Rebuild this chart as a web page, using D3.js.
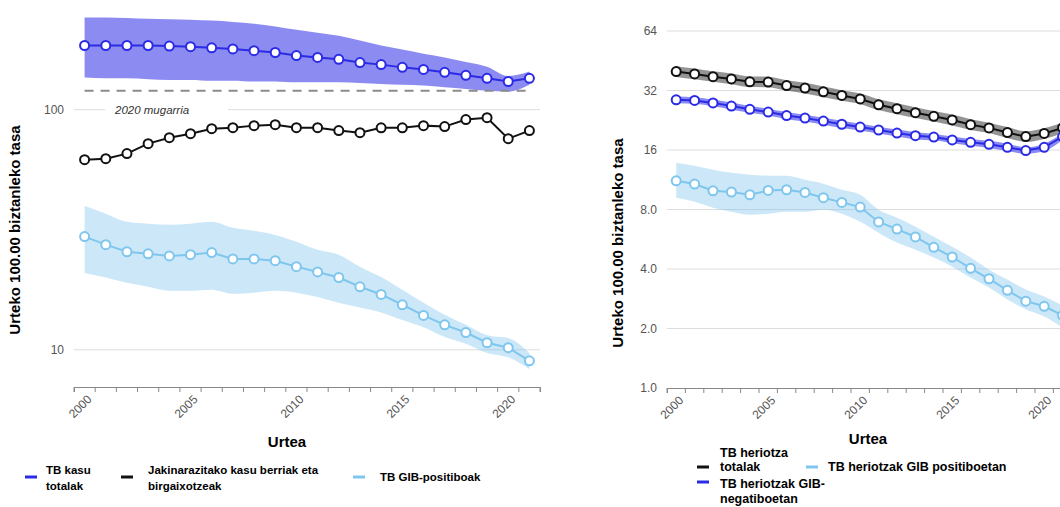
<!DOCTYPE html>
<html>
<head>
<meta charset="utf-8">
<script src="https://cdn.jsdelivr.net/npm/d3@7"></script>
<style>
  body { margin: 0; background: #fff; }
  svg { font-family: "Liberation Sans", Arial, Helvetica, sans-serif; }
</style>
</head>
<body>
<svg width="1060" height="507"></svg>
<script>
const years = [2000, 2001, 2002, 2003, 2004, 2005, 2006, 2007, 2008, 2009, 2010,
               2011, 2012, 2013, 2014, 2015, 2016, 2017, 2018, 2019, 2020, 2021]
const yearLabels = [2000, 2005, 2010, 2015, 2020]

// ezkerreko grafikoa: kasuak
const kasuTotalak      = [185, 185, 185, 185, 184, 183, 181, 179, 176, 173, 168, 165, 162, 157, 154, 150, 147, 143, 139, 135, 131, 135]
const kasuTotalakGoi   = [242, 242, 241, 239, 238, 237, 235, 232, 228, 222, 215, 209, 203, 194, 185, 178, 171, 165, 158, 151, 138, 144]
const kasuTotalakBehe  = [136, 135, 135, 134, 133, 133, 132, 132, 131, 131, 130, 130, 130, 129, 128, 127, 126, 124, 122, 120, 119, 127]
const jakinarazitakoak = [61.9, 62.5, 65.6, 72.2, 76.4, 79.4, 83.3, 84.1, 85.8, 86.6, 84.1, 84.1, 81.8, 80.2, 84.0, 84.0, 85.8, 85.0, 90.9, 92.6, 75.7, 81.8]
const gibPositiboak    = [29.6, 27.4, 25.6, 25.1, 24.6, 24.9, 25.4, 23.9, 23.9, 23.5, 22.2, 21.1, 20.0, 18.3, 17.0, 15.4, 13.9, 12.7, 11.8, 10.7, 10.2, 9.0]
const gibPositiboakGoi = [39.8, 36.9, 34.1, 33.5, 33.2, 33.5, 34.1, 32.2, 31.3, 30.1, 28.2, 26.1, 24.9, 22.2, 20.1, 17.8, 15.7, 14.0, 12.7, 11.5, 11.2, 9.7]
const gibPositiboakBehe= [20.9, 20.0, 19.0, 18.3, 17.6, 17.6, 17.8, 17.1, 17.3, 17.6, 17.3, 16.6, 15.7, 15.0, 14.3, 13.3, 12.4, 11.3, 10.6, 9.7, 9.3, 8.3]
const mugarria2020 = 120
const leftTicks = [10, 100]

// eskuineko grafikoa: heriotzak
const heriotzaTotalak     = [39.9, 38.8, 37.6, 36.6, 35.4, 35.3, 33.9, 32.9, 31.5, 30.2, 29.0, 27.1, 25.9, 24.7, 23.7, 22.7, 21.5, 20.7, 19.6, 18.7, 19.4, 20.7]
const heriotzaTotalakGoi  = [42.5, 41.3, 40.0, 39.0, 37.7, 37.6, 36.1, 35.0, 33.5, 32.1, 30.9, 28.9, 27.6, 26.3, 25.2, 24.2, 22.9, 22.0, 20.9, 19.9, 20.6, 22.0]
const heriotzaTotalakBehe = [37.5, 36.5, 35.4, 34.4, 33.3, 33.2, 31.9, 30.9, 29.6, 28.4, 27.3, 25.5, 24.3, 23.2, 22.3, 21.3, 20.2, 19.5, 18.4, 17.6, 18.2, 19.5]
const gibNegatibo     = [28.7, 28.5, 27.7, 26.7, 25.7, 24.9, 23.9, 23.2, 22.4, 21.6, 20.9, 20.2, 19.5, 18.9, 18.6, 18.0, 17.5, 17.1, 16.5, 15.9, 16.5, 18.7]
const gibNegatiboGoi  = [29.8, 29.6, 28.8, 27.8, 26.7, 25.9, 24.9, 24.1, 23.3, 22.5, 21.7, 21.0, 20.3, 19.7, 19.3, 18.7, 18.2, 17.8, 17.2, 16.5, 17.2, 19.5]
const gibNegatiboBehe = [27.6, 27.4, 26.6, 25.6, 24.7, 23.9, 22.9, 22.3, 21.5, 20.7, 20.1, 19.4, 18.7, 18.1, 17.9, 17.3, 16.8, 16.4, 15.8, 15.3, 15.8, 18.0]
const gibPositibo     = [11.18, 10.76, 9.95, 9.81, 9.50, 9.99, 10.07, 9.76, 9.18, 8.69, 8.23, 6.92, 6.37, 5.81, 5.15, 4.60, 4.03, 3.57, 3.12, 2.75, 2.59, 2.33]
const gibPositiboGoi  = [13.79, 13.31, 12.71, 12.27, 11.99, 11.85, 11.85, 11.31, 10.80, 10.07, 9.50, 7.98, 7.27, 6.55, 5.83, 5.19, 4.57, 3.97, 3.54, 3.15, 2.90, 2.61]
const gibPositiboBehe = [9.18, 8.76, 8.17, 7.80, 7.53, 7.62, 7.80, 7.80, 7.98, 7.62, 6.94, 6.11, 5.44, 5.01, 4.57, 4.11, 3.62, 3.22, 2.80, 2.50, 2.30, 2.02]
const rightTicks = [1, 2, 4, 8, 16, 32, 64]

const colors = { blue: '#2b2be6', black: '#111111', light: '#7fc6ee' }

const svg = d3.select('svg')

drawPanel({
    x: d3.scaleBand().domain(years).range([74, 540]),
    y: d3.scaleLog().domain([7, 260]).range([387, 10]),
    ticks: leftTicks,
    tickFormat: d => d,
    axisY: 387,
    titleX: 20, titleY: 230,
    urteaX: 287, urteaY: 447,
    series: [
        { values: kasuTotalak, lo: kasuTotalakBehe, hi: kasuTotalakGoi, color: colors.blue, band: 0.55 },
        { values: jakinarazitakoak, color: colors.black },
        { values: gibPositiboak, lo: gibPositiboakBehe, hi: gibPositiboakGoi, color: colors.light, band: 0.4 }
    ],
    milestone: true
})

drawPanel({
    x: d3.scaleBand().domain(years).range([667, 667 + 22 * 18.4]),
    y: d3.scaleLog().base(2).domain([1, 64]).range([388, 31]),
    ticks: rightTicks,
    tickFormat: d => d < 10 ? d.toFixed(1) : d,
    axisY: 388,
    titleX: 623, titleY: 243,
    urteaX: 868, urteaY: 444,
    series: [
        { values: heriotzaTotalak, lo: heriotzaTotalakBehe, hi: heriotzaTotalakGoi, color: colors.black, band: 0.45 },
        { values: gibNegatibo, lo: gibNegatiboBehe, hi: gibNegatiboGoi, color: colors.blue, band: 0.55 },
        { values: gibPositibo, lo: gibPositiboBehe, hi: gibPositiboGoi, color: colors.light, band: 0.4 }
    ],
    milestone: false
})

function drawPanel(p) {
    const g = svg.append('g')
    const x0 = p.x.range()[0], x1 = p.x.range()[1]
    const cx = d => p.x(d) + p.x.bandwidth() / 2

    // grid
    g.selectAll('.grid')
        .data(p.ticks.filter(t => p.y(t) < p.axisY - 1))
        .enter()
        .append('line')
        .attr('x1', x0).attr('x2', x1)
        .attr('y1', d => p.y(d)).attr('y2', d => p.y(d))
        .style('stroke', '#dddddd')
    g.selectAll('.ylab')
        .data(p.ticks)
        .enter()
        .append('text')
        .attr('x', x0 - 10)
        .attr('y', d => p.y(d))
        .attr('dy', '0.35em')
        .attr('text-anchor', 'end')
        .style('font-size', '12px')
        .style('fill', '#555')
        .text(p.tickFormat)

    // x axis
    const xAxis = d3.axisBottom(p.x).tickValues(years).tickSize(5).tickFormat('')
    const ax = g.append('g').attr('transform', `translate(0,${p.axisY})`).call(xAxis)
    ax.select('.domain').style('stroke', '#888')
    ax.selectAll('.tick').attr('transform', d => `translate(${p.x(d)},0)`)
    ax.append('line').attr('x1', x1).attr('x2', x1).attr('y1', 0).attr('y2', 5).style('stroke', '#888')
    ax.selectAll('.tick line').style('stroke', '#888')
    g.selectAll('.xlab')
        .data(yearLabels)
        .enter()
        .append('text')
        .attr('transform', d => `translate(${cx(d) + 5},${p.axisY + 10}) rotate(-45)`)
        .attr('text-anchor', 'end')
        .attr('dy', '0.35em')
        .style('font-size', '12px')
        .style('fill', '#555')
        .text(d => d)

    g.append('text')
        .attr('transform', `translate(${p.titleX},${p.titleY}) rotate(-90)`)
        .attr('text-anchor', 'middle')
        .style('font-size', '15px')
        .style('font-weight', 'bold')
        .text('Urteko 100.00 biztanleko tasa')
    g.append('text')
        .attr('x', p.urteaX).attr('y', p.urteaY)
        .attr('text-anchor', 'middle')
        .style('font-size', '15px')
        .style('font-weight', 'bold')
        .text('Urtea')

    if (p.milestone) {
        g.append('rect').attr('x', 105).attr('y', p.y(100) - 8).attr('width', 123).attr('height', 16).style('fill', '#fff')
        g.append('text')
            .attr('x', 115).attr('y', p.y(100)).attr('dy', '0.35em')
            .style('font-size', '11.5px').style('font-style', 'italic').style('fill', '#333')
            .text('2020 mugarria')
    }

    // bands
    p.series.filter(s => s.lo).forEach(s => {
        const area = d3.area()
            .x((d, i) => cx(years[i]))
            .y0((d, i) => p.y(s.lo[i]))
            .y1((d, i) => p.y(s.hi[i]))
            .curve(d3.curveMonotoneX)
        g.append('path').datum(s.values).attr('d', area)
            .style('fill', s.color).style('fill-opacity', s.band)
    })

    if (p.milestone) {
        g.append('line')
            .attr('x1', cx(years[0])).attr('x2', cx(years[years.length - 1]))
            .attr('y1', p.y(mugarria2020)).attr('y2', p.y(mugarria2020))
            .style('stroke', '#8c8c8c').style('stroke-width', 2).style('stroke-dasharray', '9,7')
    }

    p.series.forEach(s => {
        const line = d3.line().x((d, i) => cx(years[i])).y(d => p.y(d))
        g.append('path').datum(s.values).attr('d', line)
            .style('fill', 'none').style('stroke', s.color).style('stroke-width', 2)
        g.selectAll(null)
            .data(s.values)
            .enter()
            .append('circle')
            .attr('cx', (d, i) => cx(years[i]))
            .attr('cy', d => p.y(d))
            .attr('r', 4.5)
            .style('fill', '#fff')
            .style('stroke', s.color)
            .style('stroke-width', 2)
    })
}

// legends: symbol at (x, y), text lines at given y positions
function legendItem(x, y, tx, color, lines, ys, size) {
    svg.append('line').attr('x1', x).attr('x2', x + 12).attr('y1', y).attr('y2', y)
        .style('stroke', color).style('stroke-width', 3)
    const t = svg.append('text')
        .style('font-size', size).style('font-weight', 'bold')
    lines.forEach((l, i) => {
        t.append('tspan').attr('x', tx).attr('y', ys[i]).attr('dy', '0.35em').text(l)
    })
}
legendItem(25, 477, 46, colors.blue, ['TB kasu', 'totalak'], [470, 486], '11.5px')
legendItem(121, 477, 148, colors.black, ['Jakinarazitako kasu berriak eta', 'birgaixotzeak'], [470, 486], '11.5px')
legendItem(353, 477, 380, colors.light, ['TB GIB-positiboak'], [477], '11.5px')

legendItem(697, 467, 720, colors.black, ['TB heriotza', 'totalak'], [453, 467], '12.5px')
legendItem(697, 482, 720, colors.blue, ['TB heriotzak GIB-', 'negatiboetan'], [484, 499], '12.5px')
legendItem(806, 467, 828, colors.light, ['TB heriotzak GIB positiboetan'], [467], '12.5px')
</script>
</body>
</html>
